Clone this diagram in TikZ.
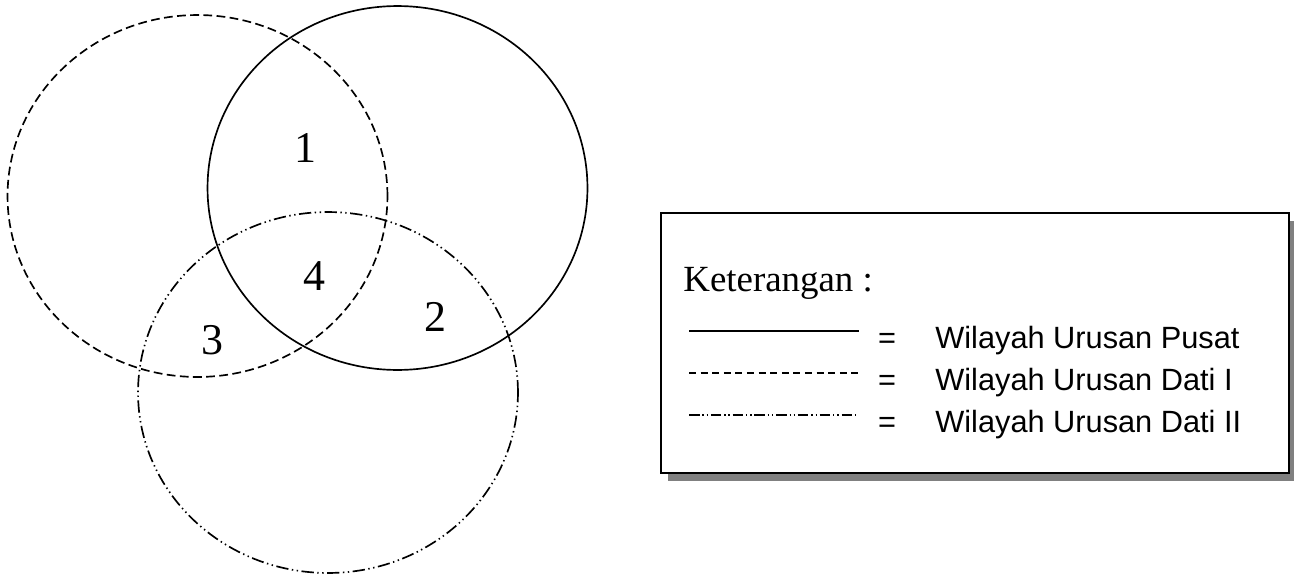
\documentclass[tikz,border=0pt]{standalone}
\usepackage{fontspec}
\setmainfont{Liberation Serif}
\newfontfamily\legendfont{Liberation Sans}
\usetikzlibrary{shapes.geometric,shadows}

\begin{document}
\begin{tikzpicture}[
        x=0.02cm, y=-0.02cm,
        region/.style={
            ellipse,
            inner sep=0pt,
            minimum width=7.6cm,
            line width=0.95pt
        },
        pusat_line/.style={draw=black},
        dati1_line/.style={draw=black, dash pattern=on 5pt off 2.5pt},
        dati2_line/.style={draw=black,
            dash pattern=on 7pt off 2pt on 0.8pt off 2pt on 0.8pt off 2pt},
        area_num/.style={font=\fontsize{25}{25}\selectfont, inner sep=0pt},
        legend_box/.style={
            rectangle,
            draw=black,
            line width=1.1pt,
            fill=white,
            minimum width=12.56cm,
            minimum height=5.2cm,
            drop shadow={shadow xshift=0.14cm, shadow yshift=-0.16cm, fill=black!50, opacity=1}
        },
        legend_title/.style={font=\fontsize{21}{21}\selectfont, inner sep=0pt, anchor=base west},
        legend_text/.style={font=\legendfont\fontsize{17.5}{17.5}\selectfont, inner sep=0pt, anchor=base west},
        legend_eq/.style={font=\legendfont\fontsize{17.5}{17.5}\selectfont, inner sep=0pt, anchor=base}
    ]

    \useasboundingbox (0,0) rectangle (1294,578);

    % Wilayah (three overlapping regions)
    \node[region, dati1_line, minimum height=7.24cm] (Dati1) at (197.5,196) {};
    \node[region, pusat_line, minimum height=7.28cm] (Pusat) at (397.5,188) {};
    \node[region, dati2_line, minimum height=7.22cm] (Dati2) at (328,392.5) {};

    % Area numbers
    \node[area_num] (N1) at (305,148) {1};
    \node[area_num] (N4) at (314,276) {4};
    \node[area_num] (N3) at (212,340) {3};
    \node[area_num] (N2) at (435,317) {2};

    % Legend box
    \node[legend_box] (LegendBox) at (975,343) {};
    \node[legend_title] (LegendTitle) at (683,291) {Keterangan :};

    % Legend rows
    \coordinate (L1_a) at (689,331);
    \coordinate (L1_b) at (859,331);
    \coordinate (L2_a) at (689,373);
    \coordinate (L2_b) at (859,373);
    \coordinate (L3_a) at (689,415);
    \coordinate (L3_b) at (859,415);
    \draw[line width=0.8pt] (L1_a) -- (L1_b);
    \draw[line width=0.65pt, dash pattern=on 4pt off 2.6pt] (L2_a) -- (L2_b);
    \draw[line width=0.8pt, dash pattern=on 6pt off 1.6pt on 0.8pt off 1.6pt on 0.8pt off 1.6pt] (L3_a) -- (L3_b);

    \node[legend_eq] (Eq1) at (887,348) {=};
    \node[legend_eq] (Eq2) at (887,390) {=};
    \node[legend_eq] (Eq3) at (887,432) {=};
    \node[legend_text] (T1) at (935,348) {Wilayah Urusan Pusat};
    \node[legend_text] (T2) at (935,390) {Wilayah Urusan Dati I};
    \node[legend_text] (T3) at (935,432) {Wilayah Urusan Dati II};

\end{tikzpicture}
\end{document}
